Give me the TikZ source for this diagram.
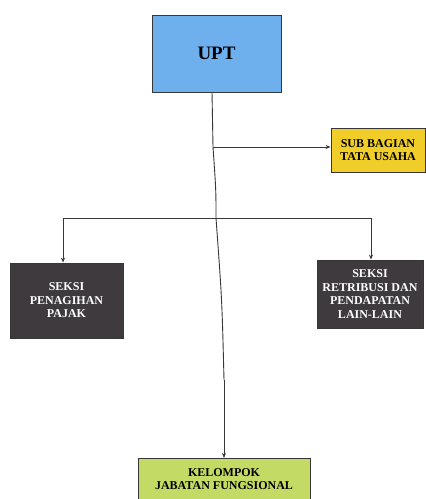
\documentclass[tikz,border=0pt]{standalone}
\usepackage{fontspec}
\setmainfont{Liberation Serif}
\usetikzlibrary{arrows.meta}
\definecolor{upt}{RGB}{110,175,238}
\definecolor{sub}{RGB}{240,205,40}
\definecolor{dark}{RGB}{62,58,62}
\definecolor{lime}{RGB}{195,218,100}
\definecolor{ln}{RGB}{55,55,55}
\tikzset{
  box/.style={draw=ln, line width=0.8pt, inner sep=0pt, align=center, font=\bfseries\fontsize{12}{13.5}\selectfont},
  conn/.style={draw=ln, line width=0.9pt},
  arr/.style={conn, -{Stealth[length=5pt,width=4pt]}}
}
\begin{document}
\begin{tikzpicture}[x=1pt,y=-1pt]
\useasboundingbox (0,0) rectangle (426,499);
\node[box, fill=upt, minimum width=129pt, minimum height=77pt, font=\bfseries\fontsize{19}{20}\selectfont] (upt) at (216.5,53.5) {UPT};
\node[box, fill=sub, minimum width=94pt, minimum height=44pt] (sub) at (378,150) {SUB BAGIAN\\TATA USAHA};
\node[box, fill=dark, text=white, minimum width=113pt, minimum height=75pt] (pen) at (66.5,300.5) {SEKSI\\PENAGIHAN\\PAJAK};
\node[box, fill=dark, text=white, minimum width=106pt, minimum height=68pt] (ret) at (370,294) {SEKSI\\RETRIBUSI DAN\\PENDAPATAN\\LAIN-LAIN};
\node[box, fill=lime, minimum width=172pt, minimum height=41pt, anchor=north] (kel) at (224,458) {KELOMPOK\\JABATAN FUNGSIONAL};
\coordinate (t) at (212,92);
\coordinate (a) at (213,147);
\coordinate (b) at (216,218);
\coordinate (bl) at (63,218);
\coordinate (br) at (371,218);
\coordinate (m) at (224,380);
\draw[conn] (t) -- (a) .. controls (216,190) .. (b) .. controls (222,300) .. (m);
\draw[arr] (m) -- (kel.north);
\draw[arr] (a) -- (sub.west |- a);
\draw[conn] (bl) -- (br);
\draw[arr] (bl) -- (pen.north -| bl);
\draw[arr] (br) -- (ret.north -| br);
\end{tikzpicture}
\end{document}
